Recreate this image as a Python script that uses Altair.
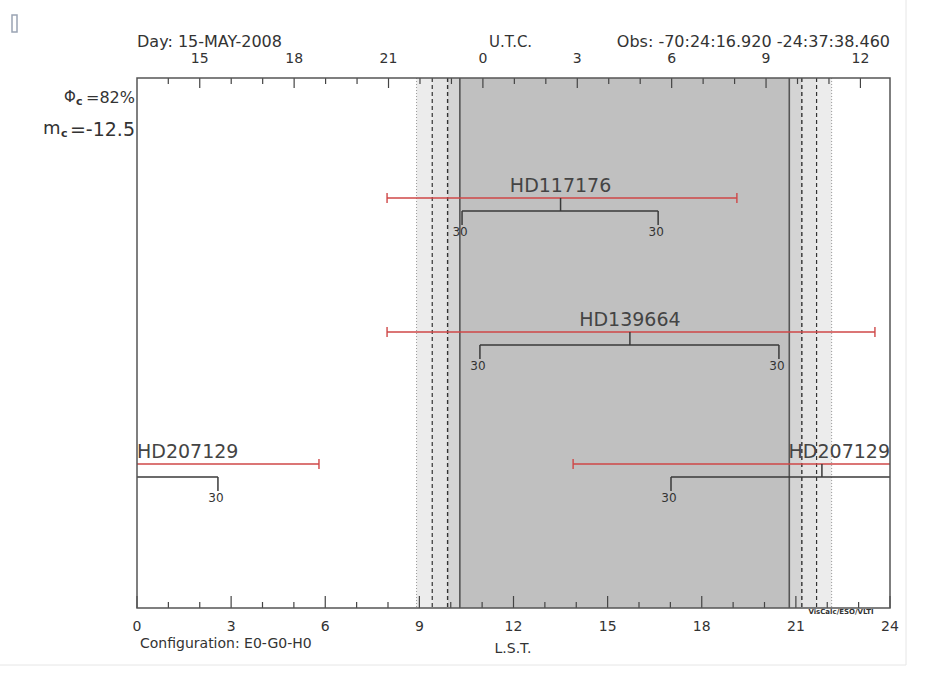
import altair as alt
import pandas as pd

W, H = 753, 530
FONT = "DejaVu Sans"
TXT = "#333333"

# ---------------- data ----------------
star_names = ["HD117176", "HD139664", "HD207129"]
rise_lst = [7.97, 7.97, 13.90]        # red line start (LST h)
set_lst = [19.12, 23.52, 5.80]        # red line end (LST h)
alt30_start = [10.36, 10.93, 17.02]   # black bracket start
alt30_end = [16.61, 20.46, 2.58]      # black bracket end
transit_lst = [13.50, 15.71, 21.83]   # centre tick
start_labels = ["30", "30", "30"]
end_labels = ["30", "30", "30"]
row_y = [120, 254, 386]               # vertical row position (px from top of plot)

# twilight / night boundaries (LST h)
evening_edges = [8.91, 9.41, 9.90, 10.29]
morning_edges = [20.79, 21.19, 21.66, 22.14]
band_colors = ["#ececec", "#e5e5e5", "#d4d4d4"]
night_color = "#c0c0c0"

lst_label_values = [0, 3, 6, 9, 12, 15, 18, 21, 24]
lst_tick_values = list(range(0, 25))

utc_hours = list(range(14, 37))       # UTC hours after 00:00 of 15-MAY
utc_at_lst2 = 15                      # UTC 15h falls at LST 2.0h
lst_of_utc15 = 2.0
sidereal_rate = 1.00274

# ---------------- tables built from the arrays ----------------
def wrap(a, b):
    return [(a, b)] if a < b else [(a, 24.0), (0.0, b)]

red_rows, brk_rows, cap_rows, vert_rows, tr_rows, name_rows, num_rows = [], [], [], [], [], [], []
for i, n in enumerate(star_names):
    y = row_y[i]
    for a, b in wrap(rise_lst[i], set_lst[i]):
        red_rows.append({"star": n, "x": a, "x2": b, "y": y})
    for a, b in wrap(alt30_start[i], alt30_end[i]):
        brk_rows.append({"star": n, "x": a, "x2": b, "y": y + 13})
    for v in (rise_lst[i], set_lst[i]):
        cap_rows.append({"x": v, "y": y - 5, "y2": y + 5})
    for v, lab in ((alt30_start[i], start_labels[i]), (alt30_end[i], end_labels[i])):
        vert_rows.append({"x": v, "y": y + 13, "y2": y + 27})
        num_rows.append({"x": v, "y": y + 34, "t": lab})
    tr_rows.append({"x": transit_lst[i], "y": y, "y2": y + 13})
    if rise_lst[i] < set_lst[i]:
        name_rows.append({"x": transit_lst[i], "y": y - 12, "t": n, "al": "center"})
    else:
        name_rows.append({"x": 0.0, "y": y - 12, "t": n, "al": "left"})
        name_rows.append({"x": 24.0, "y": y - 12, "t": n, "al": "right"})

bands = []
for k in range(3):
    bands.append({"x": evening_edges[k], "x2": evening_edges[k + 1], "c": band_colors[k]})
    bands.append({"x": morning_edges[2 - k], "x2": morning_edges[3 - k], "c": band_colors[k]})
bands.append({"x": evening_edges[3], "x2": morning_edges[0], "c": night_color})

utc_rows = []
for u in utc_hours:
    lst = lst_of_utc15 + (u - utc_at_lst2) * sidereal_rate
    utc_rows.append({"x": lst, "major": u % 3 == 0, "t": str(u % 24),
                     "len": 10 if u % 3 == 0 else 6})
utc_df = pd.DataFrame(utc_rows)

lst_ticks = pd.DataFrame({"x": lst_tick_values,
                          "y": [H - (12 if v % 3 == 0 else 6) for v in lst_tick_values]})
lst_labels = pd.DataFrame({"x": lst_label_values, "t": [str(v) for v in lst_label_values]})

xs = alt.Scale(domain=[0, 24], nice=False, zero=False)
ys = alt.Scale(domain=[0, H], reverse=True, nice=False, zero=False)
X = lambda f="x": alt.X(f"{f}:Q", scale=xs, axis=None)
Y = lambda f="y": alt.Y(f"{f}:Q", scale=ys, axis=None)
one = pd.DataFrame({"a": [0]})

band_layer = alt.Chart(pd.DataFrame(bands)).mark_rect().encode(
    x=X(), x2="x2:Q", y=alt.value(0), y2=alt.value(H),
    color=alt.Color("c:N", scale=None))

line_styles = [([1, 2], "#9a9a9a", 1.0), ([4, 3], "#333333", 1.2),
               ([4, 3], "#333333", 1.4), ([1, 0], "#555555", 1.6)]
line_layers = []
for k, (dash, col, wdt) in enumerate(line_styles):
    vals = [evening_edges[k], morning_edges[3 - k]]
    line_layers.append(alt.Chart(pd.DataFrame({"x": vals})).mark_rule(
        strokeDash=dash, color=col, strokeWidth=wdt).encode(
        x=X(), y=alt.value(0), y2=alt.value(H)))

red = alt.Chart(pd.DataFrame(red_rows)).mark_rule(color="#cf4747", strokeWidth=1.6).encode(
    x=X(), x2="x2:Q", y=Y())
caps = alt.Chart(pd.DataFrame(cap_rows)).mark_rule(color="#cf4747", strokeWidth=1.4).encode(
    x=X(), y=Y(), y2="y2:Q")
brk = alt.Chart(pd.DataFrame(brk_rows)).mark_rule(color="#3a3a3a", strokeWidth=1.5).encode(
    x=X(), x2="x2:Q", y=Y())
verts = alt.Chart(pd.DataFrame(vert_rows)).mark_rule(color="#3a3a3a", strokeWidth=1.5).encode(
    x=X(), y=Y(), y2="y2:Q")
trs = alt.Chart(pd.DataFrame(tr_rows)).mark_rule(color="#3a3a3a", strokeWidth=1.5).encode(
    x=X(), y=Y(), y2="y2:Q")
nums = alt.Chart(pd.DataFrame(num_rows)).mark_text(
    font=FONT, fontSize=12, color=TXT, dx=-2).encode(x=X(), y=Y(), text="t:N")

name_df = pd.DataFrame(name_rows)
name_layers = []
for al in ["center", "left", "right"]:
    sub = name_df[name_df["al"] == al]
    if len(sub):
        name_layers.append(alt.Chart(sub).mark_text(
            font=FONT, fontSize=19, color="#444444", align=al).encode(
            x=X(), y=Y(), text="t:N"))

bot_ticks = alt.Chart(lst_ticks).mark_rule(color="#444444", strokeWidth=1.2).encode(
    x=X(), y=Y(), y2=alt.value(H))
top_ticks = alt.Chart(utc_df).mark_rule(color="#444444", strokeWidth=1.2).encode(
    x=X(), y=Y("len"), y2=alt.value(0))
bot_labels = alt.Chart(lst_labels).mark_text(font=FONT, fontSize=14, color=TXT).encode(
    x=X(), y=alt.value(549), text="t:N")
top_labels = alt.Chart(utc_df[utc_df["major"]]).mark_text(font=FONT, fontSize=14, color=TXT).encode(
    x=X(), y=alt.value(-19), text="t:N")

def ptext(t, x, y, size=14, align="left", color=TXT, **kw):
    return alt.Chart(one).mark_text(text=t, font=FONT, fontSize=size, color=color,
                                    align=align, baseline="middle", **kw).encode(
        x=alt.value(x), y=alt.value(y))

texts = [
    ptext("Day: 15-MAY-2008", 0, -36, size=16),
    ptext("U.T.C.", 352, -36, size=15),
    ptext("Obs: -70:24:16.920 -24:37:38.460", W, -36, size=16, align="right"),
    ptext("Configuration: E0-G0-H0", 3, 566, size=14),
    ptext("L.S.T.", 376, 571, size=14, align="center"),
    ptext("Φ", -73, 19, size=15),
    ptext("c", -61, 24, size=11, fontWeight="bold"),
    ptext("=82%", -2, 20, size=16, align="right"),
    ptext("m", -94, 51, size=18),
    ptext("c", -76, 56, size=11, fontWeight="bold"),
    ptext("=-12.5", -2, 52, size=19, align="right"),
    ptext("VisCalc/ESO/VLTI", 704, 534, size=7, align="center", fontWeight="bold"),
]

icon = alt.Chart(one).mark_rect(filled=False, stroke="#9aa4b4", strokeWidth=1.5).encode(
    x=alt.value(-125), x2=alt.value(-120), y=alt.value(-63), y2=alt.value(-46))
frame = alt.Chart(one).mark_rect(filled=False, stroke="#555555", strokeWidth=1.5).encode(
    x=alt.value(0), x2=alt.value(W), y=alt.value(0), y2=alt.value(H))
page_r = alt.Chart(one).mark_rule(color="#e6e6e6").encode(
    x=alt.value(769), y=alt.value(-78), y2=alt.value(587))
page_b = alt.Chart(one).mark_rule(color="#e6e6e6").encode(
    x=alt.value(-137), x2=alt.value(769), y=alt.value(587))

chart = alt.layer(
    band_layer, *line_layers, red, caps, brk, verts, trs, nums, *name_layers,
    bot_ticks, top_ticks, bot_labels, top_labels, *texts, icon, frame, page_r, page_b
).properties(
    width=W, height=H,
    autosize=alt.AutoSizeParams(type="none"),
    padding={"left": 137, "top": 78, "right": 46, "bottom": 74},
    background="white",
).configure_view(stroke=None)

chart.save("out.html", embed_options={"renderer": "svg", "actions": False})
